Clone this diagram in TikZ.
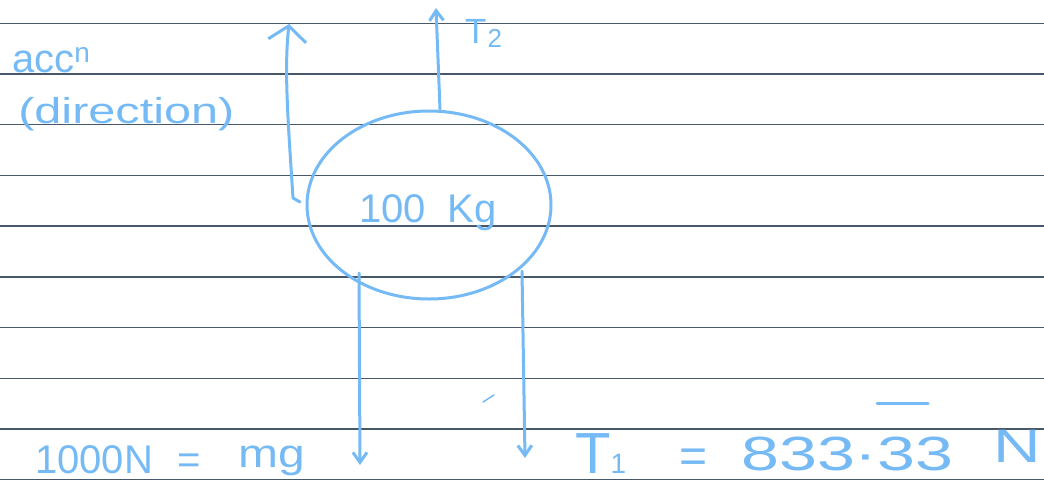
\documentclass[tikz,border=0pt]{standalone}
\usepackage{fontspec}
\setmainfont{Liberation Sans}
\usetikzlibrary{arrows.meta,shapes.geometric}
\definecolor{inkc}{RGB}{117,186,245}
\definecolor{rulec}{RGB}{72,88,104}
\begin{document}
\begin{tikzpicture}[x=1pt,y=-1pt,
  inkline/.style={draw=inkc,line width=3pt,line cap=round,line join=round},
  downarrow/.style={inkline,-{Straight Barb[length=10pt,width=14pt]}},
  accarrow/.style={inkline,-{Straight Barb[length=15pt,width=38pt]}},
  lbl/.style={text=inkc,inner sep=0pt,anchor=base west},
  ruleline/.style={draw=rulec,line width=1.4pt}]
\useasboundingbox (0,0) rectangle (1044,488);
\fill[white] (0,0) rectangle (1044,488);
% ruled paper
\foreach \k in {0,...,9}{
  \draw[ruleline] (0,{23.3+50.7*\k}) -- (1044,{23.3+50.7*\k});
}
% mass
\node[ellipse,draw=inkc,line width=3pt,minimum width=244pt,minimum height=188pt,inner sep=0pt] (mass) at (429,205) {};
\node[lbl,anchor=base,font=\fontsize{40}{40}\selectfont] (masstext) at (428,222) {100\hspace{22pt}Kg};
% coordinates for connector ends
\coordinate (t2s) at (440,109);
\coordinate (t2e) at (436,8);
\coordinate (lt) at (359,273);
\coordinate (lb) at (360,465);
\coordinate (rt) at (522,271);
\coordinate (rb) at (525,458);
\coordinate (acctick) at (300,202);
\coordinate (accbot) at (293,198);
\coordinate (acctop) at (289,24);
% arrows
\draw[downarrow] (t2s) -- (t2e);
\draw[downarrow] (lt) -- (lb);
\draw[downarrow] (rt) -- (rb);
\draw[accarrow] (acctick) -- (accbot) .. controls (288,120) and (284,70) .. (acctop);
% labels
\node[lbl,font=\fontsize{35}{35}\selectfont] (t2) at (465,43) {T\kern1pt{\fontsize{26}{26}\selectfont\raisebox{-4pt}{2}}};
\node[lbl,font=\fontsize{40}{40}\selectfont] (acc) at (12,72) {acc\textsuperscript{n}};
\node[lbl,font=\fontsize{36}{36}\selectfont,xscale=1.35] (dir) at (18,123) {(direction)};
\node[lbl,font=\fontsize{40}{40}\selectfont] (w1) at (35,473) {1000N};
\node[lbl,font=\fontsize{40}{40}\selectfont] (w2) at (177,473) {=};
\node[lbl,font=\fontsize{40}{40}\selectfont,xscale=1.2] (w3) at (238,467) {mg};
\node[lbl,font=\fontsize{58}{58}\selectfont] (t1) at (575,473) {T{\fontsize{28}{28}\selectfont 1}};
\node[lbl,font=\fontsize{48}{48}\selectfont] (eq2) at (679,472) {=};
\node[lbl,font=\fontsize{48}{48}\selectfont,xscale=1.42] (val) at (741,470) {833·33};
\node[lbl,font=\fontsize{47}{47}\selectfont,xscale=1.4] (unit) at (993,462) {N};
% small marks
\draw[inkline] (877,403) -- (928,403);
\draw[draw=inkc,line width=1.5pt,line cap=round] (483,402) -- (494,395);
\end{tikzpicture}
\end{document}
